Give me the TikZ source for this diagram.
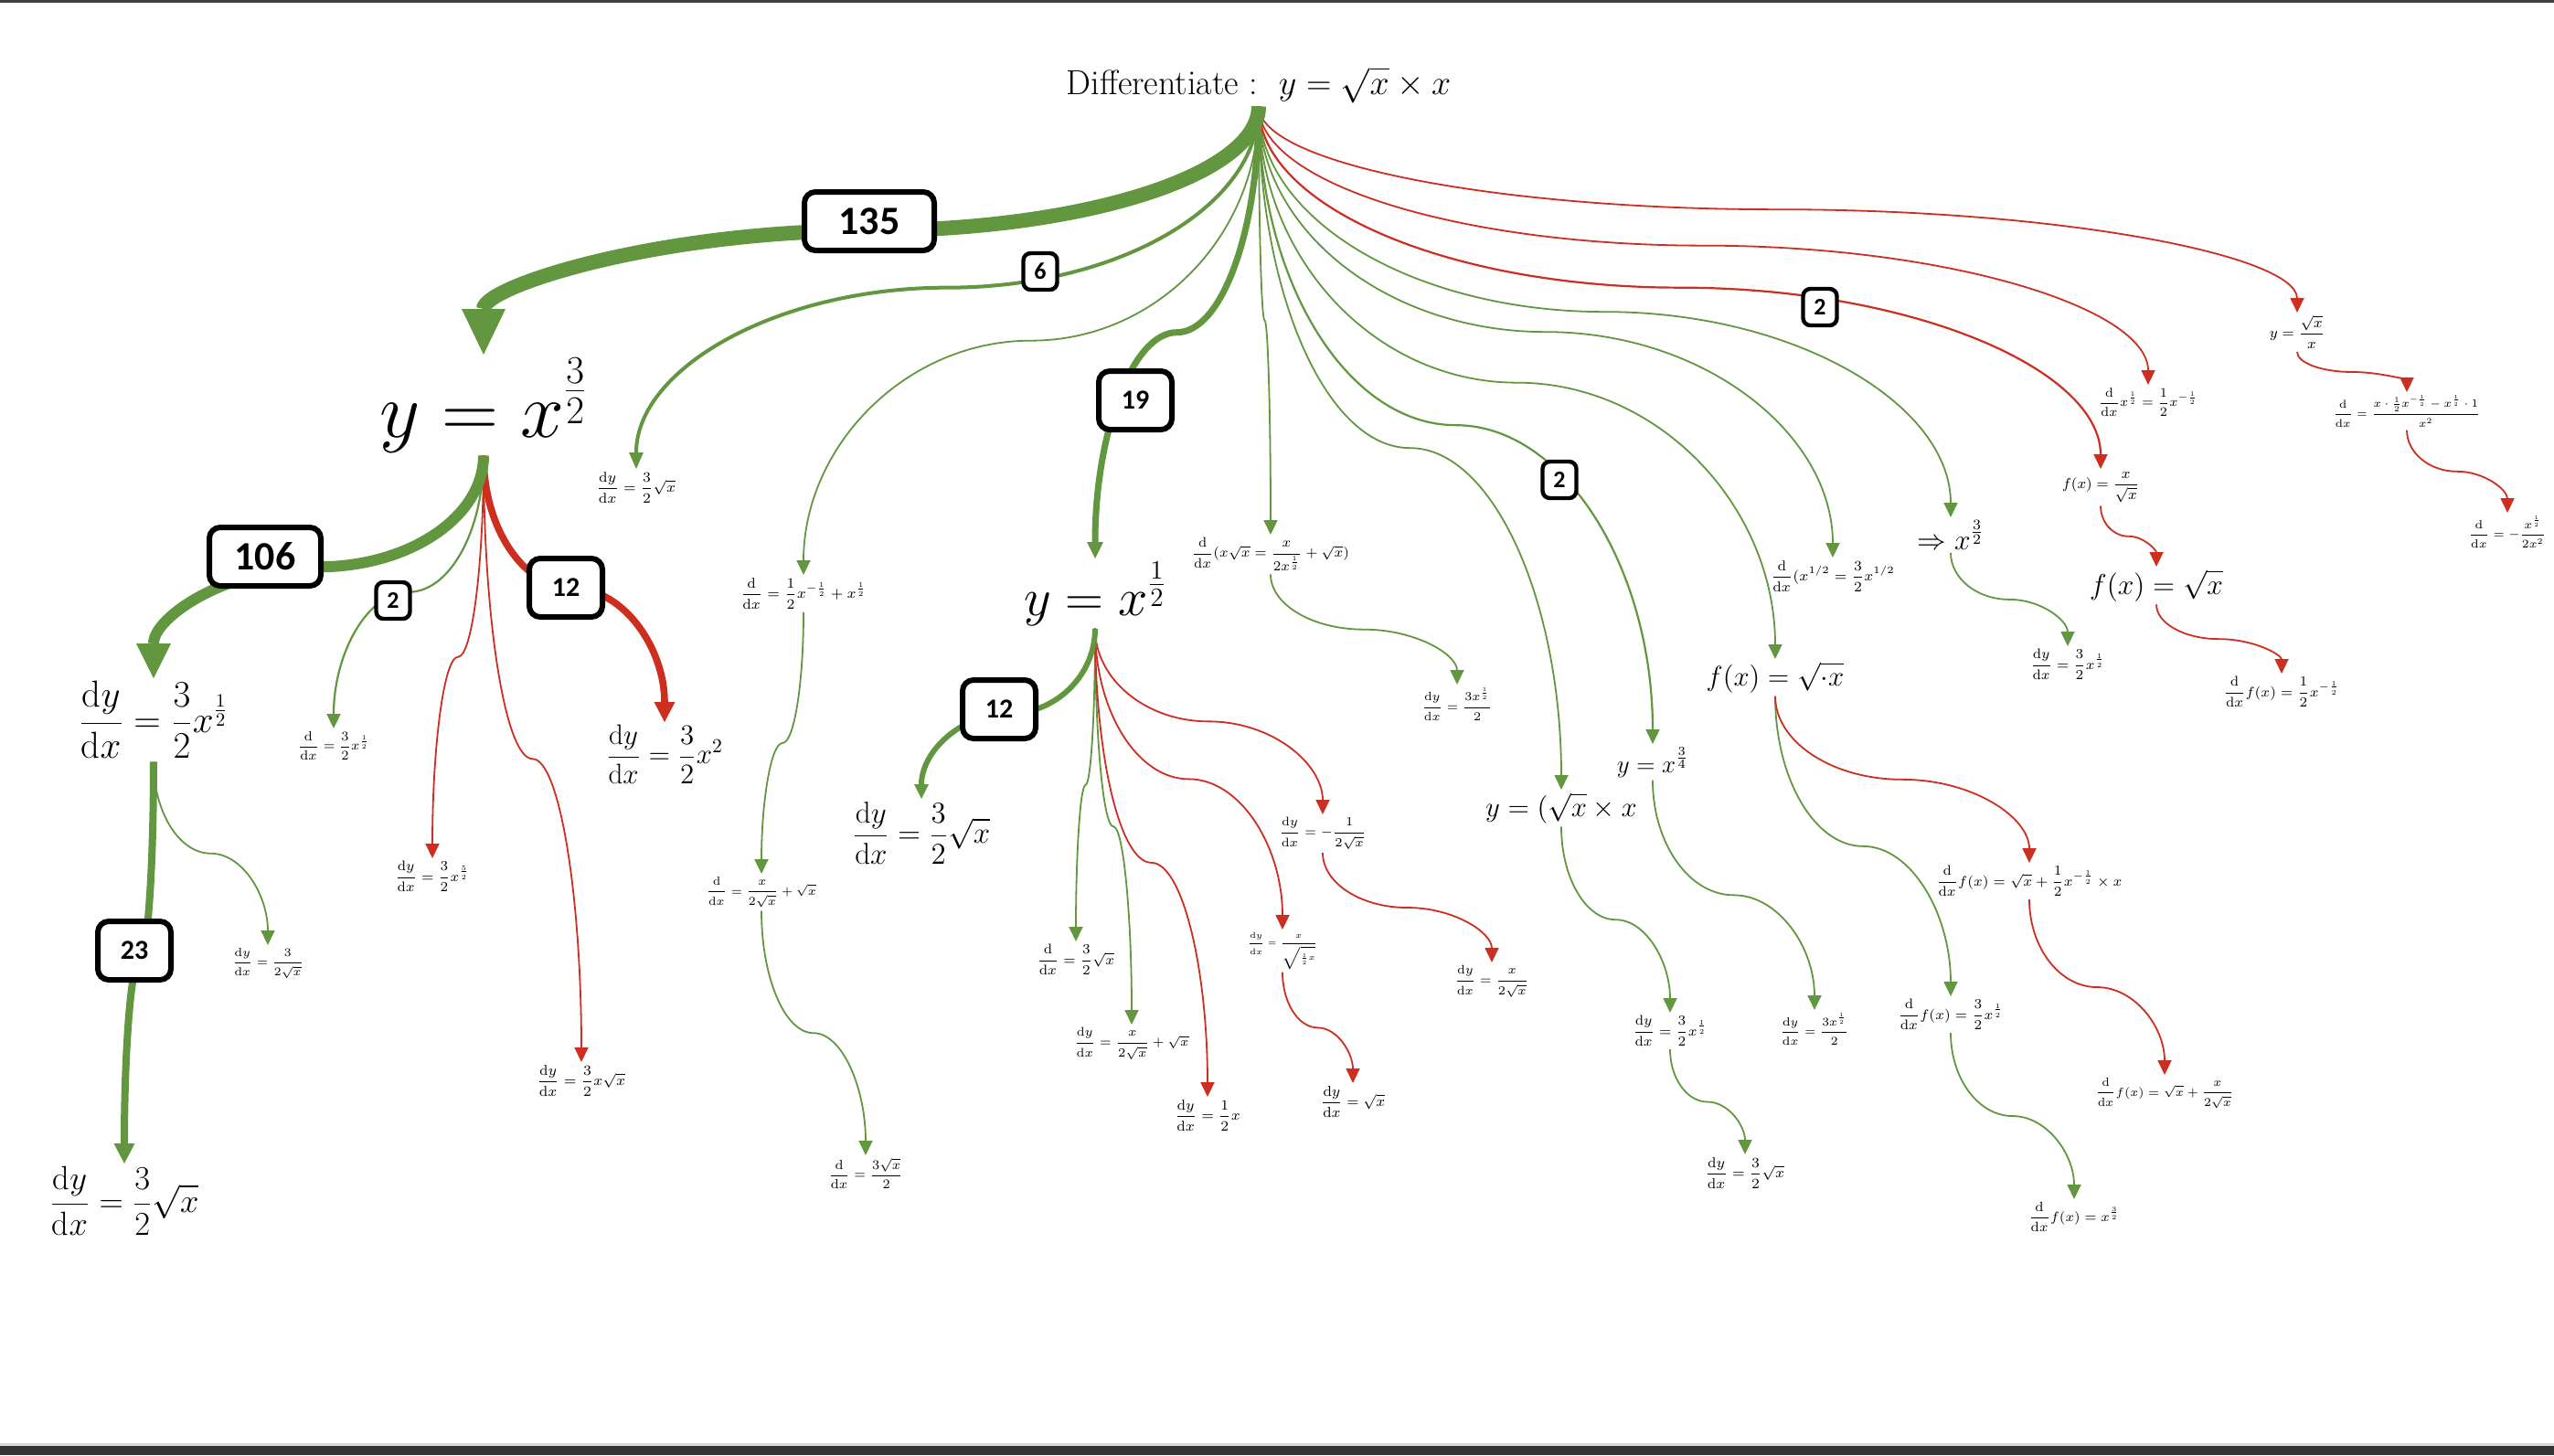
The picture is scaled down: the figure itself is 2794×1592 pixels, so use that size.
\RequirePackage{fix-cm}
\documentclass[tikz,border=0pt]{standalone}
\usepackage{fontspec}
\usetikzlibrary{arrows.meta,calc}
\newfontfamily\cntfont{Carlito}
\definecolor{okgreen}{RGB}{98,151,64}
\definecolor{badred}{RGB}{205,46,32}
\newcommand{\dyx}{\frac{\mathrm{d}y}{\mathrm{d}x}}
\newcommand{\ddx}{\frac{\mathrm{d}}{\mathrm{d}x}}
% curved link: parent.south -> child.north, flat in the middle
\newcommand{\linkto}[3][]{%
  \path (#2.south) coordinate (s) (#3.north) coordinate (t);
  \path ($(s)!.5!(t)$) coordinate (m);
  \draw[#1] (s) .. controls ($(s)!.55!(s|-m)$) and ($(m)!.55!(s|-m)$) .. (m)
    .. controls ($(m)!.55!(t|-m)$) and ($(t)!.55!(t|-m)$) .. (t);}
\tikzset{
  eq/.style={anchor=north, inner sep=1.5pt, font=\fontsize{#1}{#1}\selectfont,
    execute at begin node=$\displaystyle, execute at end node=$},
  gr/.style={draw=okgreen, line width=0.9pt, -{Triangle[length=8pt,width=7.5pt]}},
  rd/.style={draw=badred, line width=0.9pt, -{Triangle[length=8pt,width=7.5pt]}},
  cnt/.style={draw, fill=white, line width=3pt, rounded corners=6pt,
    minimum width=40pt, minimum height=32pt, inner sep=2pt,
    font=\cntfont\bfseries\fontsize{15}{15}\selectfont},
  cntbig/.style={cnt, font=\cntfont\bfseries\fontsize{22}{22}\selectfont},
  cntsm/.style={draw, fill=white, line width=2.2pt, rounded corners=4pt,
    minimum width=18.5pt, minimum height=20pt, inner sep=1pt,
    font=\cntfont\bfseries\fontsize{13}{13}\selectfont},
}
\begin{document}
\begin{tikzpicture}[x=0.5pt,y=0.5pt,yscale=-1,xscale=1]
\useasboundingbox (0,0) rectangle (2794,1592);
%screen edges
\fill[black!75] (0,0) rectangle (2794,3);
\fill[black!15] (0,1579) rectangle (2794,1582);
\fill[black!80] (0,1582) rectangle (2794,1592);

%Root
\node[anchor=north, inner sep=1.5pt, font=\fontsize{19}{19}\selectfont] (R) at (1377,70) {Differentiate :\ \ $y = \sqrt{x}\times x$};

%Level 1
\node[eq=43] (A) at (529,388) {y = x^{\frac{3}{2}}};
\node[eq=7.8] (B) at (696,513) {\dyx = \frac{3}{2}\sqrt{x}};
\node[eq=7.8] (C) at (879,629) {\ddx = \frac{1}{2}x^{-\frac{1}{2}} + x^{\frac{1}{2}}};
\node[eq=29] (D) at (1198,611) {y = x^{\frac{1}{2}}};
\node[eq=7.5] (E) at (1390,585) {\ddx(x\sqrt{x} = \frac{x}{2x^{\frac{1}{2}}} + \sqrt{x})};
\node[eq=15.4] (F) at (1708,864) {y = (\sqrt{x} \times x};
\node[eq=13.5] (G) at (1808,814) {y = x^{\frac{3}{4}}};
\node[eq=15.4] (H) at (1942,721) {f(x) = \sqrt{\cdot x}};
\node[eq=7.8] (I) at (2005,610) {\ddx(x^{1/2} = \frac{3}{2}x^{1/2}};
\node[eq=15.8] (J) at (2134,566) {\Rightarrow x^{\frac{3}{2}}};
\node[eq=8] (K) at (2298,513) {f(x) = \frac{x}{\sqrt{x}}};
\node[eq=7.1] (L) at (2350,421) {\ddx x^{\frac{1}{2}} = \frac{1}{2}x^{-\frac{1}{2}}};
\node[eq=8] (M) at (2513,342) {y = \frac{\sqrt{x}}{x}};

%Level 2 and below
\node[eq=20.5] (A1) at (168,742) {\dyx = \frac{3}{2}x^{\frac{1}{2}}};
\node[eq=18.3] (A1a) at (136,1273) {\dyx = \frac{3}{2}\sqrt{x}};
\node[eq=6.4] (A1b) at (293,1034) {\dyx = \frac{3}{2\sqrt{x}}};
\node[eq=7.2] (A2) at (365,797) {\ddx = \frac{3}{2}x^{\frac{1}{2}}};
\node[eq=7.6] (A3) at (473,939) {\dyx = \frac{3}{2}x^{\frac{5}{2}}};
\node[eq=7.8] (A4) at (636,1162) {\dyx = \frac{3}{2}x\sqrt{x}};
\node[eq=15.5] (A5) at (727,790) {\dyx = \frac{3}{2}x^2};
\node[eq=6.5] (C1) at (833,956) {\ddx = \frac{x}{2\sqrt{x}} + \sqrt{x}};
\node[eq=7.2] (C2) at (947,1264) {\ddx = \frac{3\sqrt{x}}{2}};
\node[eq=16.5] (D1) at (1008,874) {\dyx = \frac{3}{2}\sqrt{x}};
\node[eq=7.6] (D2) at (1177,1030) {\ddx = \frac{3}{2}\sqrt{x}};
\node[eq=6.8] (D3) at (1238,1121) {\dyx = \frac{x}{2\sqrt{x}} + \sqrt{x}};
\node[eq=7.8] (D4) at (1321,1200) {\dyx = \frac{1}{2}x};
\node[eq=4.5] (D5) at (1403,1017) {\dyx = \frac{x}{\sqrt{\frac{1}{2}x}}};
\node[eq=8] (D5a) at (1480,1185) {\dyx = \sqrt{x}};
\node[eq=6.8] (D6) at (1447,891) {\dyx = -\frac{1}{2\sqrt{x}}};
\node[eq=6.7] (D6a) at (1632,1053) {\dyx = \frac{x}{2\sqrt{x}}};
\node[eq=6.6] (E1) at (1594,749) {\dyx = \frac{3x^{\frac{1}{2}}}{2}};
\node[eq=7.6] (F1) at (1827,1108) {\dyx = \frac{3}{2}x^{\frac{1}{2}}};
\node[eq=7.8] (F2) at (1909,1263) {\dyx = \frac{3}{2}\sqrt{x}};
\node[eq=6.4] (G1) at (1985,1105) {\dyx = \frac{3x^{\frac{1}{2}}}{2}};
\node[eq=7.6] (H1) at (2134,1090) {\ddx f(x) = \frac{3}{2}x^{\frac{1}{2}}};
\node[eq=7.4] (H1a) at (2269,1312) {\ddx f(x) = x^{\frac{3}{2}}};
\node[eq=7.6] (H2) at (2220,944) {\ddx f(x) = \sqrt{x} + \frac{1}{2}x^{-\frac{1}{2}} \times x};
\node[eq=6.5] (H2a) at (2368,1176) {\ddx f(x) = \sqrt{x} + \frac{x}{2\sqrt{x}}};
\node[eq=7.6] (J2) at (2262,707) {\dyx = \frac{3}{2}x^{\frac{1}{2}}};
\node[eq=15.8] (K2) at (2359,620) {f(x) = \sqrt{x}};
\node[eq=7.6] (K3) at (2496,737) {\ddx f(x) = \frac{1}{2}x^{-\frac{1}{2}}};
\node[eq=6.1] (M2) at (2633,429) {\ddx = \frac{x\cdot\frac{1}{2}x^{-\frac{1}{2}} - x^{\frac{1}{2}}\cdot 1}{x^2}};
\node[eq=6.4] (M3) at (2743,561) {\ddx = -\frac{x^{\frac{1}{2}}}{2x^2}};

%Links from the root
\linkto[gr]{R}{C}
\linkto[gr]{R}{E}
\linkto[gr]{R}{F}
\linkto[gr, line width=1.1pt]{R}{G}
\linkto[gr]{R}{H}
\linkto[gr]{R}{I}
\linkto[gr]{R}{J}
\linkto[rd, line width=1.1pt]{R}{K}
\linkto[rd]{R}{L}
\linkto[rd]{R}{M}
\linkto[gr, line width=2pt, -{Triangle[length=9pt,width=8pt,line width=0pt]}]{R}{B}
\linkto[gr, line width=3.5pt, -{Triangle[length=9pt,width=9pt,line width=0pt]}]{R}{D}
\linkto[gr, line width=8pt, -{Triangle[length=25pt,width=24pt,line width=0pt]}]{R}{A}

%Links below
\linkto[gr, line width=1.1pt]{A}{A2}
\linkto[rd]{A}{A3}
\linkto[rd]{A}{A4}
\linkto[rd, line width=3.8pt, -{Triangle[length=11pt,width=11.5pt,line width=0pt]}]{A}{A5}
\linkto[gr, line width=6pt, -{Triangle[length=19pt,width=19pt,line width=0pt]}]{A}{A1}
\linkto[gr, line width=4pt, -{Triangle[length=11pt,width=11.5pt,line width=0pt]}]{A1}{A1a}
\linkto[gr]{A1}{A1b}
\linkto[gr]{C}{C1}
\linkto[gr]{C1}{C2}
\linkto[gr]{D}{D2}
\linkto[gr]{D}{D3}
\linkto[rd]{D}{D4}
\linkto[rd]{D}{D5}
\linkto[rd]{D}{D6}
\linkto[rd]{D5}{D5a}
\linkto[rd]{D6}{D6a}
\linkto[gr, line width=3pt, -{Triangle[length=8pt,width=8pt,line width=0pt]}]{D}{D1}
\linkto[gr]{E}{E1}
\linkto[gr]{F}{F1}
\linkto[gr]{F1}{F2}
\linkto[gr]{G}{G1}
\linkto[gr]{H}{H1}
\linkto[gr]{H1}{H1a}
\linkto[rd]{H}{H2}
\linkto[rd]{H2}{H2a}
\linkto[gr]{J}{J2}
\linkto[rd]{K}{K2}
\linkto[rd]{K2}{K3}
\linkto[rd]{M}{M2}
\linkto[rd]{M2}{M3}

%Counts
\node[cntbig, minimum width=71pt] (n135) at (951,242) {135};
\node[cntbig, minimum width=61pt] (n106) at (290,609) {106};
\node[cnt] (n23) at (147,1040) {23};
\node[cnt] (n19) at (1242,438) {19};
\node[cnt] (n12a) at (619,643) {12};
\node[cnt] (n12b) at (1093,776) {12};
\node[cntsm] (n6) at (1138,297) {6};
\node[cntsm] (n2a) at (430,657) {2};
\node[cntsm] (n2b) at (1706,525) {2};
\node[cntsm] (n2c) at (1991,336) {2};

\end{tikzpicture}
\end{document}
